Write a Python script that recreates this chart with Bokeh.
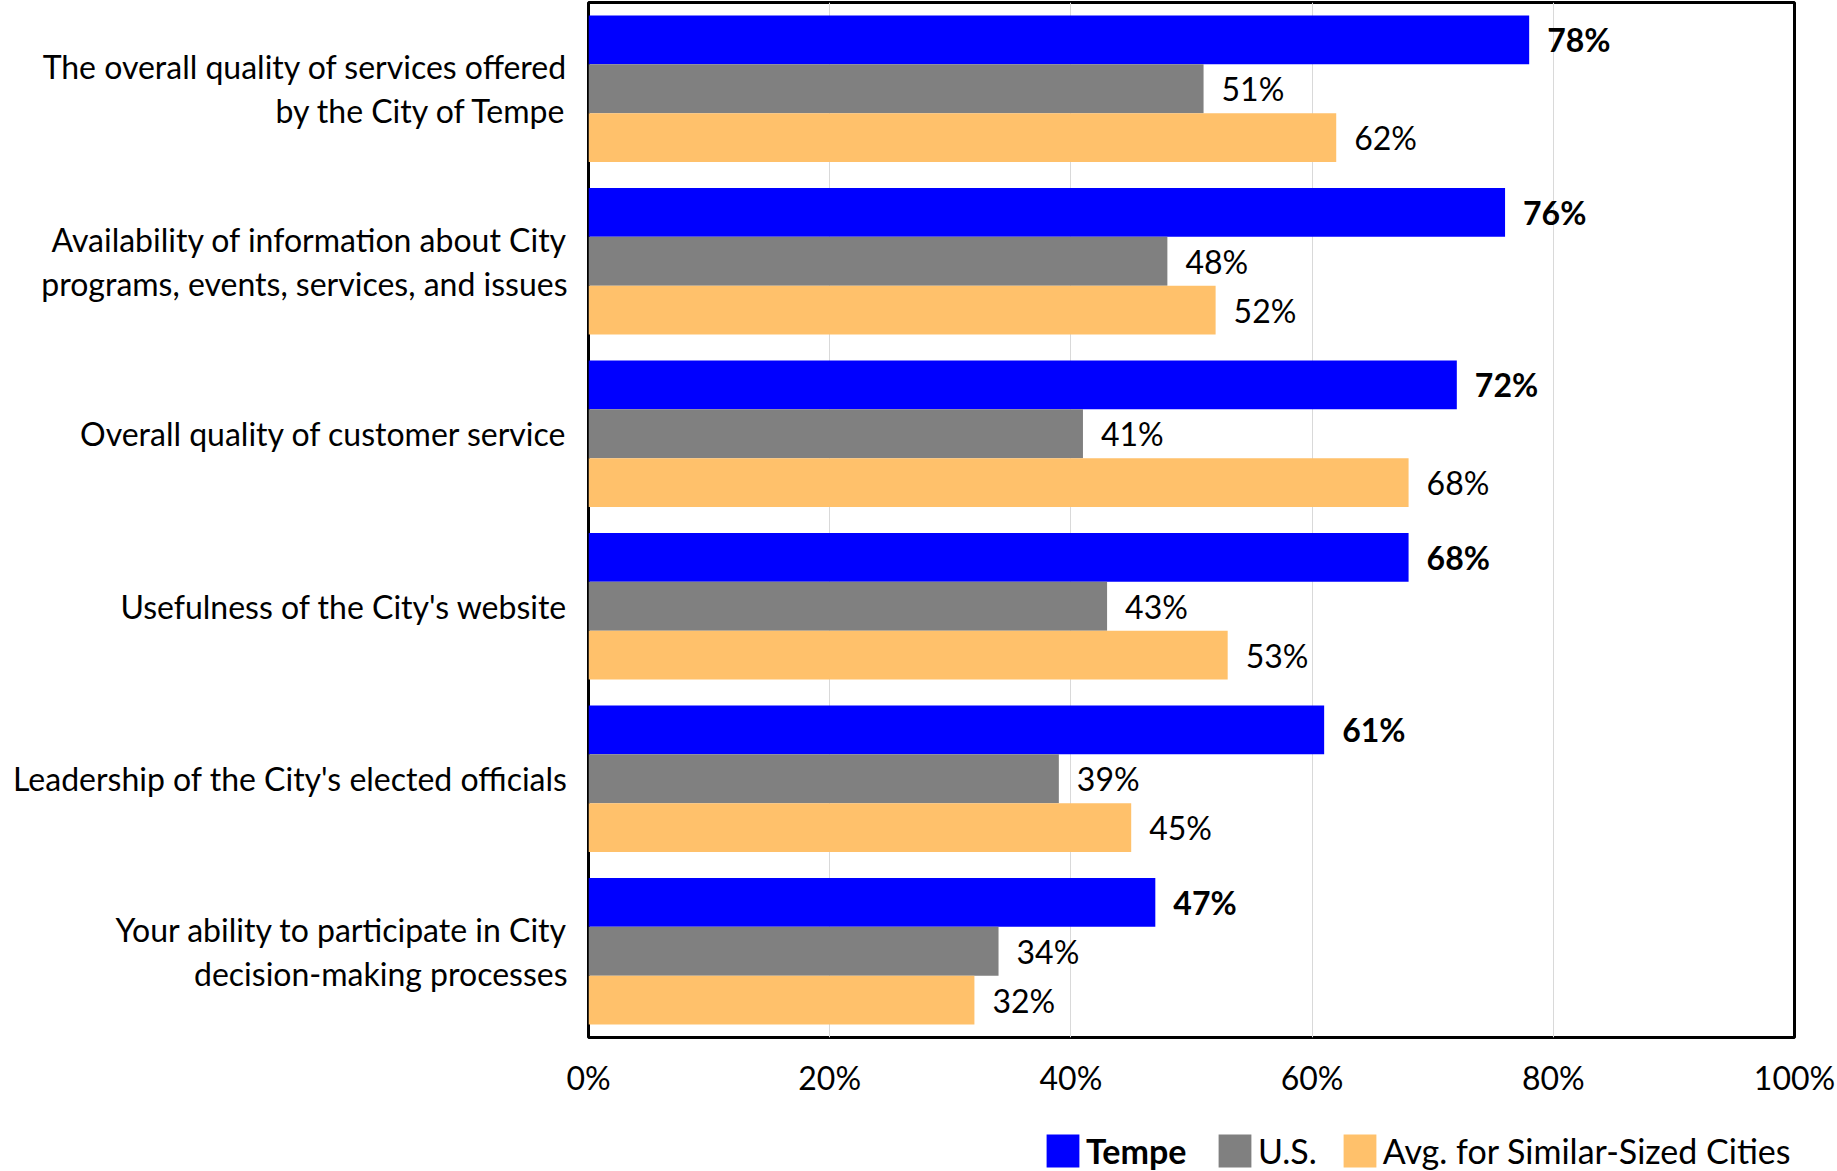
from bokeh.plotting import figure
from bokeh.models import (ColumnDataSource, FactorRange, Range1d, FixedTicker,
                          Legend, LegendItem)
from bokeh.layouts import column
from bokeh.transform import dodge
from bokeh.core.properties import value
from bokeh.embed import file_html
from bokeh.resources import INLINE

categories = [
    "The overall quality of services offered\nby the City of Tempe",
    "Availability of information about City\nprograms, events, services, and issues",
    "Overall quality of customer service",
    "Usefulness of the City's website",
    "Leadership of the City's elected officials",
    "Your ability to participate in City\ndecision-making processes",
]
tempe = [78, 76, 72, 68, 61, 47]
us = [51, 48, 41, 43, 39, 34]
similar = [62, 52, 68, 53, 45, 32]
series_names = ["Tempe", "U.S.", "Avg. for Similar-Sized Cities"]
x_ticks = [0, 20, 40, 60, 80, 100]
x_tick_labels = ["0%", "20%", "40%", "60%", "80%", "100%"]

FONT = "Lato"
FS = "32px"
LEG_FS = "34px"
colors = ["#0000FF", "#808080", "#FFC16B"]
keys = ["tempe", "us", "similar"]
bar_h = 0.283
offsets = [bar_h, 0.0, -bar_h]

p = figure(
    frame_width=1206, frame_height=1035,
    min_border_left=588, min_border_right=43, min_border_top=2, min_border_bottom=80,
    y_range=FactorRange(factors=list(reversed(categories))),
    x_range=Range1d(0, 100),
    output_backend="svg", toolbar_location=None,
)

src = ColumnDataSource(dict(
    cat=categories,
    tempe=tempe, us=us, similar=similar,
    tempe_lbl=[f"{v}%" for v in tempe],
    us_lbl=[f"{v}%" for v in us],
    similar_lbl=[f"{v}%" for v in similar],
))

for key, off, col in zip(keys, offsets, colors):
    p.hbar(y=dodge("cat", off, range=p.y_range), right=key, left=0,
           height=bar_h, color=col, line_color=None, source=src)
    p.text(x=key, y=dodge("cat", off, range=p.y_range), text=key + "_lbl",
           x_offset=18, text_baseline="middle", text_align="left",
           text_font=value(FONT), text_font_size=FS,
           text_font_style="bold" if key == "tempe" else "normal",
           text_color="black", source=src)

# axes
p.xaxis.ticker = FixedTicker(ticks=x_ticks)
p.xaxis.major_label_overrides = {t: l for t, l in zip(x_ticks, x_tick_labels)}
p.xaxis.axis_line_color = None
p.xaxis.major_tick_line_color = None
p.xaxis.minor_tick_line_color = None
p.xaxis.major_label_standoff = 14
p.xaxis.major_label_text_font = FONT
p.xaxis.major_label_text_font_size = FS
p.xaxis.major_label_text_color = "black"

p.yaxis.axis_line_color = None
p.yaxis.major_tick_line_color = None
p.yaxis.minor_tick_line_color = None
p.yaxis.major_label_standoff = 15
p.yaxis.major_label_text_font = FONT
p.yaxis.major_label_text_font_size = FS
p.yaxis.major_label_text_color = "black"
p.yaxis.major_label_text_line_height = 1.12

p.xgrid.ticker = FixedTicker(ticks=x_ticks)
p.xgrid.grid_line_color = "#D9D9D9"
p.xgrid.grid_line_width = 1
p.ygrid.grid_line_color = None

p.outline_line_color = "black"
p.outline_line_width = 3
p.background_fill_color = "white"
p.border_fill_color = "white"

# legend strip below the chart (zero-height bars only provide legend swatches)
lp = figure(width=1837, height=54, min_border=0,
            x_range=Range1d(0, 100),
            y_range=FactorRange(factors=list(reversed(categories))),
            output_backend="svg", toolbar_location=None)
lp.axis.visible = False
lp.grid.grid_line_color = None
lp.outline_line_color = None
lp.border_fill_color = "white"
lp.background_fill_color = "white"

swatches = [lp.hbar(y="cat", right=k, left=0, height=0, color=c,
                    line_color=None, source=src) for k, c in zip(keys, colors)]

leg1 = Legend(items=[LegendItem(label=series_names[0], renderers=[swatches[0]])],
              location=(454, 0), orientation="horizontal")
leg2 = Legend(items=[LegendItem(label=series_names[1], renderers=[swatches[1]]),
                     LegendItem(label=series_names[2], renderers=[swatches[2]])],
              location=(626, 0), orientation="horizontal")
for lg, style in [(leg1, "bold"), (leg2, "normal")]:
    lg.label_text_font = FONT
    lg.label_text_font_size = LEG_FS
    lg.label_text_font_style = style
    lg.label_text_color = "black"
    lg.glyph_width = 41
    lg.glyph_height = 41
    lg.label_standoff = 3
    lg.spacing = 22
    lg.padding = 0
    lg.margin = 0
    lg.border_line_color = None
    lg.background_fill_alpha = 0
    lp.add_layout(lg, "center")

layout = column(p, lp, spacing=0)
open("out.html", "w").write(file_html(layout, INLINE))
